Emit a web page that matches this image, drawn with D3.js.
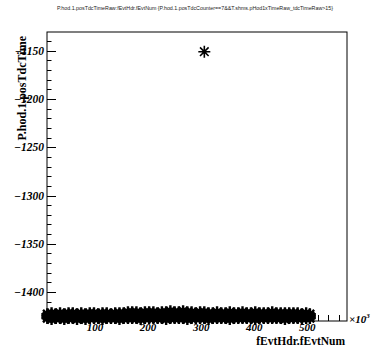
<!DOCTYPE html>
<html>
<head>
<meta charset="utf-8">
<script src="https://cdn.jsdelivr.net/npm/d3@7"></script>
<style>
  body { margin: 0; background: #fff; }
  svg { display: block; }
</style>
</head>
<body>
<div id="chart"></div>
<script>
// event number (x10^3) sampled along the dense band
const evtNum = [10, 18, 26, 34, 42, 50, 58, 66, 74, 82, 90, 98, 106, 114, 122, 130,
  138, 146, 154, 162, 170, 178, 186, 194, 202, 210, 218, 226, 234, 242, 250, 258,
  266, 274, 282, 290, 298, 306, 314, 322, 330, 338, 346, 354, 362, 370, 378, 386,
  394, 402, 410, 418, 426, 434, 442, 450, 458, 466, 474, 482, 490, 498, 505];

// posTdcTime values of the band (upper, middle, lower edge of the cloud)
const tdcUpper = [-1423, -1422, -1423, -1422, -1423, -1422, -1422, -1423, -1422, -1423,
  -1422, -1422, -1423, -1422, -1422, -1423, -1422, -1422, -1422, -1421, -1421, -1421,
  -1422, -1421, -1421, -1421, -1422, -1421, -1421, -1420, -1421, -1421, -1420, -1421,
  -1421, -1422, -1421, -1421, -1422, -1422, -1421, -1422, -1422, -1421, -1422, -1422,
  -1421, -1422, -1422, -1421, -1422, -1422, -1422, -1421, -1422, -1422, -1422, -1422,
  -1422, -1422, -1423, -1422, -1423];
const tdcMiddle = [-1425, -1425, -1426, -1425, -1425, -1426, -1425, -1425, -1426, -1425,
  -1425, -1425, -1426, -1425, -1425, -1425, -1426, -1425, -1425, -1425, -1424, -1425,
  -1425, -1424, -1425, -1425, -1424, -1425, -1424, -1424, -1425, -1424, -1425, -1424,
  -1425, -1425, -1424, -1425, -1425, -1425, -1424, -1425, -1425, -1425, -1424, -1425,
  -1425, -1425, -1425, -1424, -1425, -1425, -1425, -1425, -1425, -1425, -1425, -1425,
  -1425, -1425, -1425, -1425, -1425];
const tdcLower = [-1427, -1428, -1427, -1427, -1428, -1427, -1427, -1428, -1427, -1428,
  -1427, -1427, -1427, -1428, -1427, -1427, -1427, -1428, -1427, -1427, -1427, -1427,
  -1428, -1427, -1427, -1427, -1427, -1427, -1428, -1427, -1427, -1427, -1427, -1428,
  -1427, -1427, -1427, -1427, -1428, -1427, -1427, -1427, -1427, -1428, -1427, -1427,
  -1427, -1427, -1427, -1428, -1427, -1427, -1427, -1427, -1427, -1427, -1428, -1427,
  -1427, -1427, -1427, -1427, -1427];

// the single outlier
const outlierEvt = [306];
const outlierTdc = [-1151];

const xTicks = [100, 200, 300, 400, 500];
const yTicks = [-1400, -1350, -1300, -1250, -1200, -1150];

const titleText = 'P.hod.1.posTdcTimeRaw:fEvtHdr.fEvtNum {P.hod.1.posTdcCounter==7&&T.shms.pHod1xTimeRaw_tdcTimeRaw>15}';

const W = 371, H = 351;
const frame = { left: 47, right: 347, top: 32, bottom: 321 };

const svg = d3.select('#chart')
  .append('svg')
  .attr('width', W)
  .attr('height', H);

const xScale = d3.scaleLinear()
  .domain([9.4, 575])
  .range([frame.left, frame.right]);

const yScale = d3.scaleLinear()
  .domain([-1430, -1130.6])
  .range([frame.bottom, frame.top]);

const serif = "'Liberation Serif', 'DejaVu Serif', serif";

// frame
svg.append('rect')
  .attr('x', frame.left)
  .attr('y', frame.top)
  .attr('width', frame.right - frame.left)
  .attr('height', frame.bottom - frame.top)
  .attr('fill', 'none')
  .attr('stroke', '#000')
  .attr('stroke-width', 1);

// Y axis: majors every 50, minors every 10, drawn inside the frame
const yMinor = d3.range(-1420, -1130, 10);
svg.append('g')
  .selectAll('line')
  .data(yMinor)
  .enter().append('line')
  .attr('x1', frame.left)
  .attr('x2', (d) => frame.left + (yTicks.includes(d) ? 9 : 4.5))
  .attr('y1', (d) => Math.round(yScale(d)) + 0.5)
  .attr('y2', (d) => Math.round(yScale(d)) + 0.5)
  .attr('stroke', '#000');

svg.append('g')
  .selectAll('text')
  .data(yTicks)
  .enter().append('text')
  .attr('x', frame.left - 3)
  .attr('y', (d) => yScale(d) + 4)
  .attr('text-anchor', 'end')
  .style('font-family', serif)
  .style('font-weight', 'bold')
  .style('font-style', 'italic')
  .style('font-size', '11.5px')
  .text((d) => `\u2212${Math.abs(d)}`);

// X axis: majors every 100, minors every 20, drawn upward
const xMinor = d3.range(20, 575, 20);
svg.append('g')
  .selectAll('line')
  .data(xMinor)
  .enter().append('line')
  .attr('x1', (d) => Math.round(xScale(d)) + 0.5)
  .attr('x2', (d) => Math.round(xScale(d)) + 0.5)
  .attr('y1', frame.bottom)
  .attr('y2', (d) => frame.bottom - (xTicks.includes(d) ? 9 : 6))
  .attr('stroke', '#000');

svg.append('g')
  .selectAll('text')
  .data(xTicks)
  .enter().append('text')
  .attr('x', (d) => xScale(d))
  .attr('y', frame.bottom + 10)
  .attr('text-anchor', 'middle')
  .style('font-family', serif)
  .style('font-weight', 'bold')
  .style('font-style', 'italic')
  .style('font-size', '11px')
  .text((d) => d);

// x10^3 exponent
const expo = svg.append('text')
  .attr('x', frame.right + 2)
  .attr('y', frame.bottom + 2)
  .style('font-family', serif)
  .style('font-style', 'italic')
  .style('font-weight', 'bold')
  .style('font-size', '11px');
expo.append('tspan').text('\u00d710');
expo.append('tspan')
  .attr('dy', -5)
  .style('font-size', '7px')
  .text('3');

// star markers
const star = 'M-6,0H6M0,-6V6M-4.3,-4.3L4.3,4.3M-4.3,4.3L4.3,-4.3';
const bandRows = [tdcUpper, tdcMiddle, tdcLower];
const points = [];
bandRows.forEach((row) => {
  row.forEach((v, i) => points.push({ x: evtNum[i], y: v, band: true }));
});
outlierEvt.forEach((v, i) => points.push({ x: v, y: outlierTdc[i], band: false }));

svg.append('g')
  .selectAll('path')
  .data(points)
  .enter().append('path')
  .attr('d', star)
  .attr('transform', (d) => `translate(${xScale(d.x)},${yScale(d.y)})`)
  .attr('fill', 'none')
  .attr('stroke', '#000')
  .attr('stroke-width', (d) => (d.band ? 2.4 : 1.6));

// axis titles
svg.append('text')
  .attr('x', frame.right - 2)
  .attr('y', 345)
  .attr('text-anchor', 'end')
  .style('font-family', serif)
  .style('font-weight', 'bold')
  .style('font-size', '11.5px')
  .text('fEvtHdr.fEvtNum');

svg.append('text')
  .attr('transform', `translate(26,${frame.top + 4}) rotate(-90)`)
  .attr('text-anchor', 'end')
  .style('font-family', serif)
  .style('font-weight', 'bold')
  .style('font-size', '12px')
  .text('P.hod.1.posTdcTime');

// main title
svg.append('text')
  .attr('x', 195)
  .attr('y', 10)
  .attr('text-anchor', 'middle')
  .attr('textLength', 276)
  .attr('lengthAdjust', 'spacingAndGlyphs')
  .style('font-family', "'Liberation Sans', Arial, sans-serif")
  .style('font-size', '5.5px')
  .style('fill', '#222')
  .text(titleText);
</script>
</body>
</html>
